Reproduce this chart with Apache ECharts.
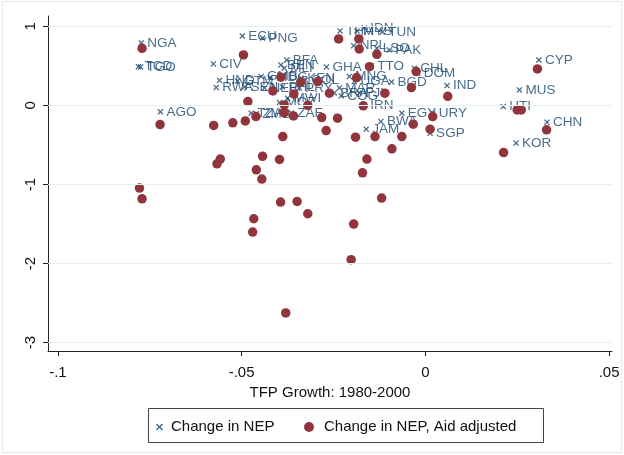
<!DOCTYPE html>
<html>
<head>
<meta charset="utf-8">
<script src="https://cdn.jsdelivr.net/npm/echarts@6/dist/echarts.min.js"></script>
<style>html,body{margin:0;padding:0;background:#fff}#c{width:624px;height:455px}</style>
</head>
<body>
<div id="c"></div>
<script>
// Change in NEP (labelled by country code)
const nepCountries = ['NGA','TGO','TCD','AGO','ECU','PNG','CIV','HND','RWA','GTM','SEN','GMB','NER','MDG','BEN','PHL','MLI','BFA','KEN','PRY','MWI','MOZ','TZA','ZMB','ZAF','COL','BRA','MAR','COG','FJI','IRN','GHA','THA','MYS','IDN','TUN','NPL','LSO','PAK','TTO','MNG','UGA','BGD','CHL','DOM','IND','CYP','MUS','HTI','CHN','KOR','EGY','URY','BWA','JAM','SGP'];
const nepTfp = [-0.0773,-0.0775,-0.0781,-0.0721,-0.0498,-0.0443,-0.0577,-0.0560,-0.0569,-0.0511,-0.0492,-0.0447,-0.0438,-0.0422,-0.0393,-0.0389,-0.0384,-0.0377,-0.0338,-0.0343,-0.0375,-0.0397,-0.0474,-0.0460,-0.0365,-0.0327,-0.0248,-0.0234,-0.0229,-0.0180,-0.0166,-0.0269,-0.0232,-0.0186,-0.0166,-0.0117,-0.0195,-0.0132,-0.0098,-0.0147,-0.0207,-0.0193,-0.0092,-0.0030,-0.0021,0.0059,0.0309,0.0256,0.0212,0.0331,0.0247,-0.0064,0.0020,-0.0121,-0.0161,0.0013];
const nepChange = [0.789,0.486,0.490,-0.082,0.877,0.852,0.524,0.316,0.227,0.309,0.234,0.366,0.221,0.354,0.511,0.234,0.470,0.574,0.343,0.221,0.091,0.035,-0.098,-0.107,-0.095,0.322,0.158,0.221,0.120,0.158,0.006,0.486,0.941,0.941,0.979,0.928,0.755,0.722,0.701,0.499,0.366,0.303,0.297,0.470,0.407,0.250,0.574,0.196,-0.015,-0.212,-0.477,-0.098,-0.098,-0.205,-0.301,-0.351];

// Change in NEP, Aid adjusted
const aidTfp = [-0.0771,-0.0495,-0.0236,-0.0181,-0.0180,-0.0132,-0.0152,-0.0187,-0.0025,-0.0038,0.0061,-0.0110,-0.0169,-0.0293,-0.0339,-0.0261,-0.0320,-0.0393,-0.0415,-0.0358,-0.0483,-0.0384,-0.0384,-0.0359,-0.0282,-0.0270,-0.0239,-0.0722,-0.0576,-0.0524,-0.0490,-0.0461,-0.0388,-0.0558,-0.0567,-0.0443,-0.0397,-0.0460,-0.0445,-0.0159,-0.0171,-0.0091,-0.0190,-0.0137,-0.0064,-0.0033,0.0020,0.0013,0.0250,0.0261,0.0330,0.0213,0.0305,-0.0778,-0.0771,-0.0394,-0.0349,-0.0320,-0.0119,-0.0467,-0.0470,-0.0195,-0.0202,-0.0380];
const aidChange = [0.722,0.638,0.840,0.840,0.713,0.646,0.490,0.351,0.427,0.225,0.114,0.154,-0.006,0.301,0.297,0.154,0.000,0.356,0.183,0.145,0.048,0.006,-0.091,-0.133,-0.154,-0.318,-0.162,-0.242,-0.253,-0.221,-0.196,-0.141,-0.394,-0.679,-0.739,-0.644,-0.684,-0.814,-0.932,-0.678,-0.852,-0.549,-0.402,-0.394,-0.394,-0.237,-0.141,-0.301,-0.057,-0.057,-0.309,-0.596,0.461,-1.045,-1.181,-1.222,-1.215,-1.370,-1.172,-1.433,-1.601,-1.500,-1.951,-2.624];

const xTicks = [-0.1, -0.05, 0, 0.05];
const yTicks = [-3, -2, -1, 0, 1];
const xTitle = 'TFP Growth: 1980-2000';
const seriesNames = ['Change in NEP', 'Change in NEP, Aid adjusted'];

const BLUE = '#1a476f', RED = '#90353b';
const X_PATH = 'path://M0,1.5L1.5,0L5,3.5L8.5,0L10,1.5L6.5,5L10,8.5L8.5,10L5,6.5L1.5,10L0,8.5L3.5,5Z';
const FONT = '"Liberation Sans", Arial, sans-serif';
const fmt = v => v === 0 ? '0' : String(v).replace('0.', '.');

const chart = echarts.init(document.getElementById('c'), null, {renderer: 'canvas'});
chart.setOption({
  animation: false,
  backgroundColor: '#fff',
  grid: {left: 48, right: 12, top: 16, bottom: 104},
  xAxis: {
    type: 'value', min: -0.1027, max: 0.0508,
    axisLine: {show: true, onZero: false, lineStyle: {color: '#222', width: 1}},
    axisTick: {show: true, length: 5, customValues: xTicks, lineStyle: {color: '#222'}},
    axisLabel: {customValues: xTicks, formatter: fmt, color: '#111', fontFamily: FONT, fontSize: 15, margin: 14},
    splitLine: {show: false},
    name: xTitle, nameLocation: 'middle', nameGap: 32,
    nameTextStyle: {color: '#111', fontFamily: FONT, fontSize: 15}
  },
  yAxis: {
    type: 'value', min: -3.105, max: 1.13,
    axisLine: {show: true, onZero: false, lineStyle: {color: '#222', width: 1}},
    axisTick: {show: true, length: 5, customValues: yTicks, lineStyle: {color: '#222'}},
    axisLabel: {customValues: yTicks, formatter: fmt, color: '#111', fontFamily: FONT, fontSize: 15, rotate: 90, margin: 10},
    splitLine: {show: false}
  },
  legend: [
    {data: [{name: seriesNames[0], icon: X_PATH}], left: 156, top: 418, padding: 0,
     itemWidth: 13, itemHeight: 7, textStyle: {fontFamily: FONT, fontSize: 15, color: '#111', lineHeight: 18}},
    {data: [{name: seriesNames[1], icon: 'circle'}], left: 304, top: 418, padding: 0,
     itemWidth: 20, itemHeight: 10, textStyle: {fontFamily: FONT, fontSize: 15, color: '#111', lineHeight: 18}}
  ],
  graphic: [
    {type: 'rect', silent: true, z: -10, shape: {x: 2.5, y: 1.5, width: 619, height: 451},
     style: {fill: 'none', stroke: '#e2eaec', lineWidth: 1}},
    {type: 'rect', silent: true, shape: {x: 148.5, y: 408.5, width: 395, height: 34},
     style: {fill: 'none', stroke: '#444', lineWidth: 1}}
  ],
  series: [
    {
      type: 'line', data: [], z: 1, silent: true,
      markLine: {silent: true, symbol: ['none', 'none'], label: {show: false},
        lineStyle: {color: '#e6eff0', width: 1, type: 'solid'},
        data: yTicks.map(v => ({yAxis: v}))}
    },
    {
      name: seriesNames[0], type: 'scatter', z: 2,
      symbol: X_PATH, symbolSize: 6,
      itemStyle: {color: BLUE},
      label: {show: true, position: 'right', distance: 3, formatter: p => p.name,
        color: BLUE, fontFamily: FONT, fontSize: 13.5},
      data: nepCountries.map((n, i) => ({name: n, value: [nepTfp[i], nepChange[i]]}))
    },
    {
      name: seriesNames[1], type: 'scatter', z: 3,
      symbol: 'circle', symbolSize: 9.5,
      itemStyle: {color: RED, opacity: 1},
      data: aidTfp.map((x, i) => [x, aidChange[i]])
    }
  ]
});
</script>
</body>
</html>
